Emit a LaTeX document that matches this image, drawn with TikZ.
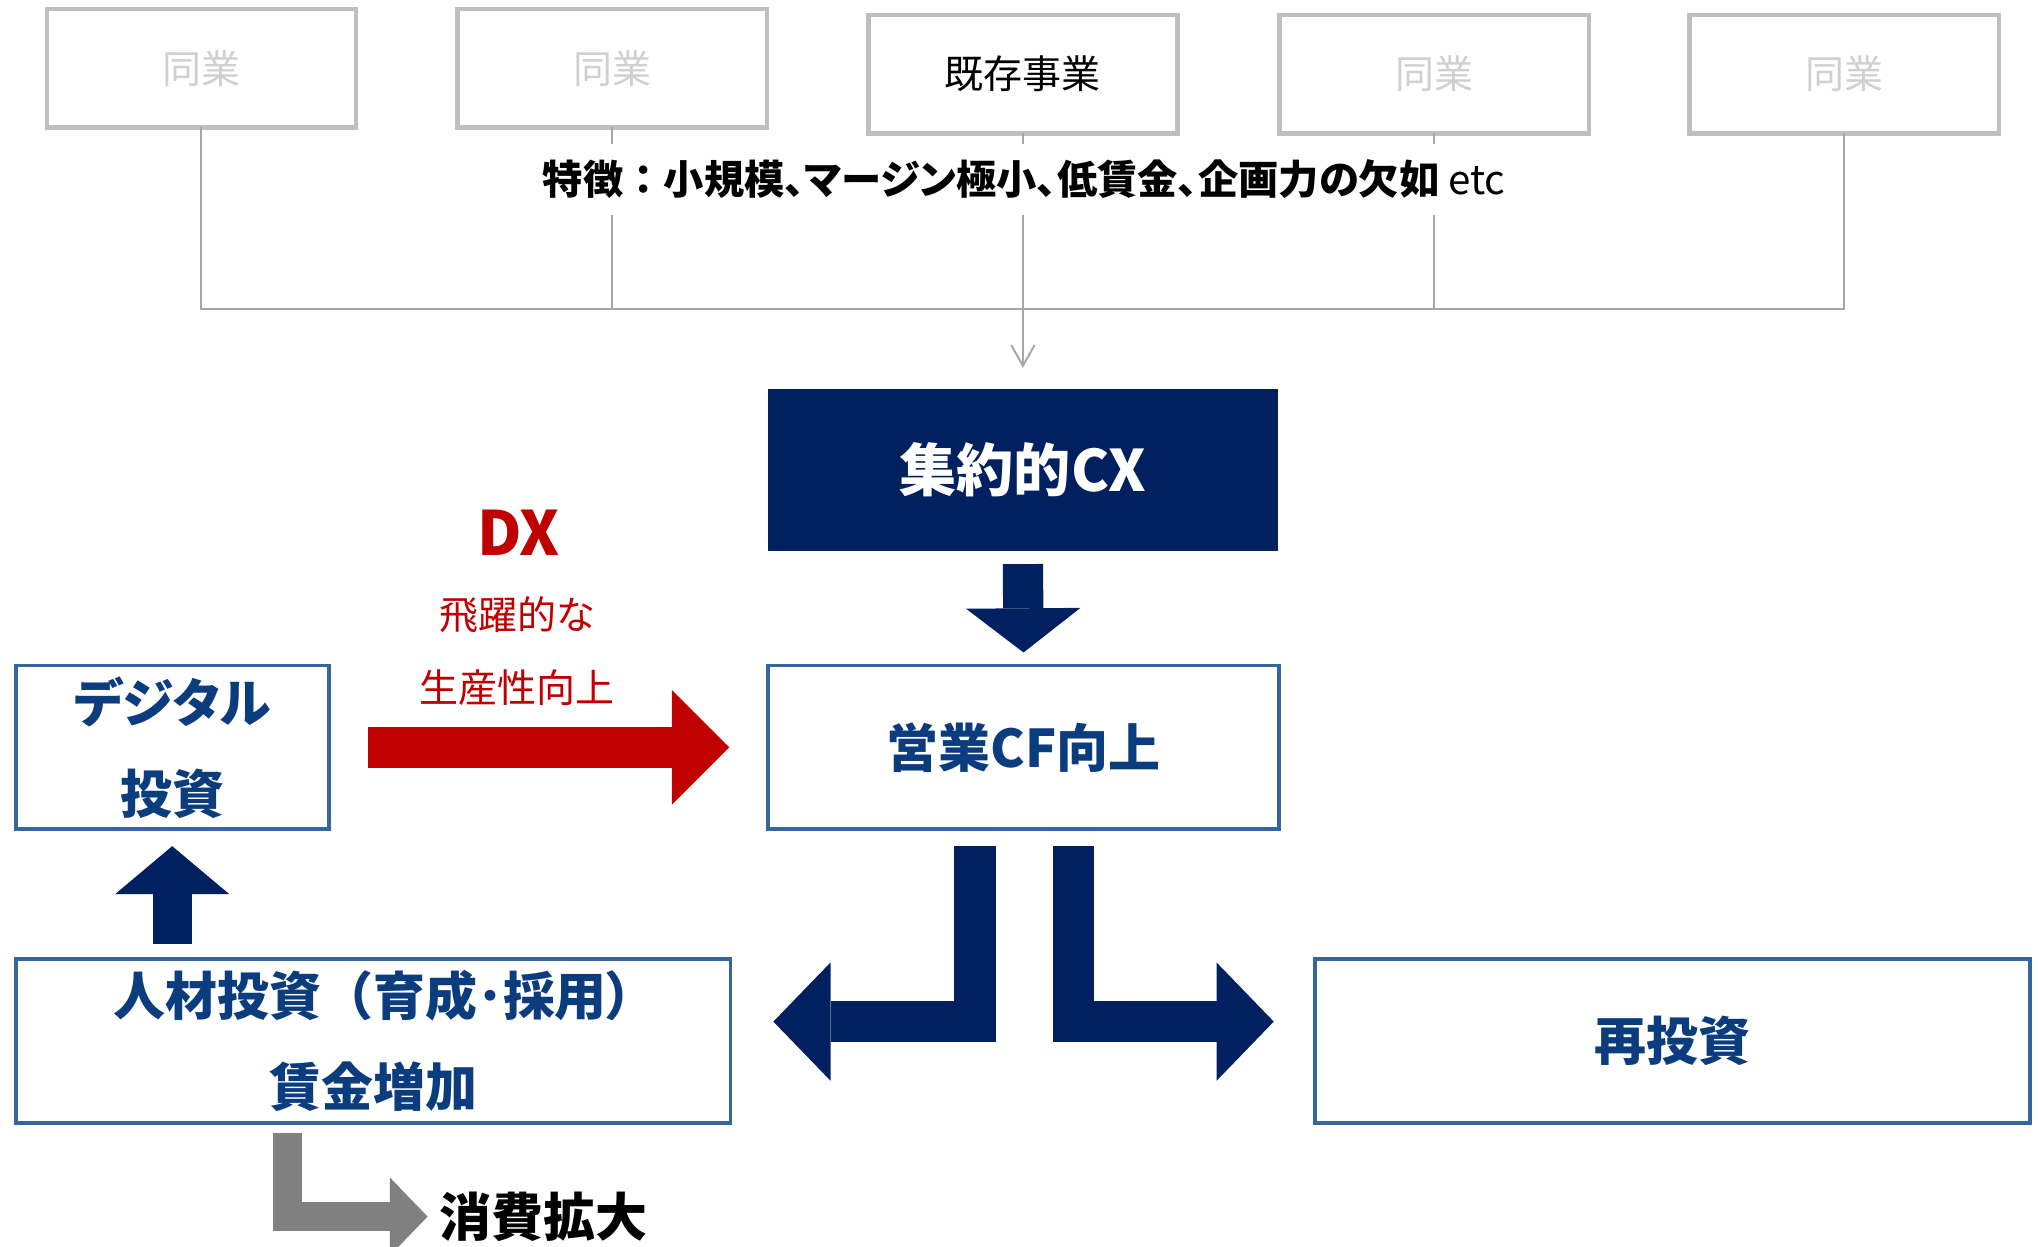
\documentclass[tikz,border=0pt]{standalone}
\usepackage{fontspec}
\setmainfont{Noto Sans CJK JP}[RawFeature=+palt]
\newfontfamily\fulljp{Noto Sans CJK JP}
\usetikzlibrary{arrows.meta}
\definecolor{navy}{HTML}{002060}
\definecolor{boxblue}{HTML}{35659E}
\definecolor{txtblue}{HTML}{0B3C7D}
\definecolor{dxred}{HTML}{C00000}
\definecolor{framegray}{HTML}{BFBFBF}
\definecolor{palegray}{HTML}{D0D0D0}
\definecolor{linegray}{HTML}{A6A6A6}
\definecolor{flowgray}{HTML}{808080}
\tikzset{
	peer/.style={draw=framegray, line width=3.5pt, minimum width=238pt, minimum height=91pt,
		text=palegray, font=\fontsize{30}{30}\selectfont, outer sep=0pt},
	bluebox/.style={draw=boxblue, line width=3pt, minimum height=126pt, text=txtblue,
		font=\fontsize{40}{70}\selectfont\bfseries, align=center, outer sep=0pt},
	conn/.style={linegray, line width=1.5pt},
	block/.style={navy, line width=#1},
	head/.style 2 args={-{Triangle[length=#1,width=#2,line width=0pt]}},
}
\begin{document}
\begin{tikzpicture}[x=1pt,y=-1pt]
	\useasboundingbox (0,0) rectangle (1568,959);
	% the five companies
	\node [peer] (d1) at (155,52.5) {同業};
	\node [peer] (d2) at (471,52.5) {同業};
	\node [peer, text=black] (d3) at (787,57) {既存事業};
	\node [peer] (d4) at (1103.5,57) {同業};
	\node [peer] (d5) at (1419,57) {同業};

	\node [fill=navy, minimum width=392pt, minimum height=125pt, outer sep=0pt,
		text=white, font=\fontsize{44}{44}\selectfont\bfseries] (cx) at (787,361.5) {集約的CX};

	\path (d3.south) ++(0,135.5) coordinate (bus);
	\draw [conn] (d1.south) |- (bus);
	\draw [conn] (d5.south) |- (bus);
	\foreach \d in {d2, d4} {
		\draw [conn] (\d.south) -- (\d.south |- bus);
	}
	\draw [conn, -{Straight Barb[length=16pt,width=18pt]}, shorten >=16pt] (d3.south) -- (cx.north);
	\node [fill=white, inner xsep=4pt, minimum height=55pt, font=\fontsize{31}{31}\selectfont]
		(feat) at (788,138) {\bfseries 特徴{\fulljp ：}小規模、マージン極小、低賃金、企画力の欠如\mdseries\ etc};

	% boxes
	\node [bluebox, minimum width=393pt] (cf) at (787.5,575) {営業CF向上};
	\node [bluebox, minimum width=241pt] (dig) at (132.5,575) {デジタル\\投資};
	\node [bluebox, minimum width=550pt] (hr) at (287,801) {人材投資{\fulljp （}育成･採用）\\賃金増加};
	\node [bluebox, minimum width=550pt] (re) at (1287,801) {再投資};

	\node [text=dxred, font=\fontsize{47}{47}\selectfont\bfseries] (dx) at (399,410) {DX};
	\node [text=dxred, font=\fontsize{30}{30}\selectfont] (leap) at (398,473) {飛躍的な};
	\node [text=dxred, font=\fontsize{30}{30}\selectfont] (prod) at (398,529) {生産性向上};
	\node [anchor=west, inner sep=0pt, font=\fontsize{40}{40}\selectfont\bfseries] (spend) at (338,936) {消費拡大};

	% block arrows
	\draw [block=31pt, head={34pt}{88pt}] ([yshift=-10pt]cx.south) -- ([yshift=10pt]cf.north);
	\path (hr.north -| dig.south) ++(0,-12) coordinate (up0);
	\draw [block=30pt, head={37pt}{88pt}] (up0) -- ([yshift=-13pt]dig.south);
	\draw [dxred, line width=31pt, head={44pt}{88pt}] ([xshift=30pt]dig.east) -- ([xshift=-30pt]cf.west);
	\draw [block=32pt, head={44pt}{91pt}] ([xshift=-37.5pt,yshift=-13pt]cf.south) |- ([xshift=33pt,yshift=15pt]hr.east);
	\draw [block=32pt, head={44pt}{91pt}] ([xshift=38.5pt,yshift=-13pt]cf.south) |- ([xshift=-32pt,yshift=15pt]re.west);
	\draw [flowgray, line width=22pt, head={29pt}{60pt}] ([xshift=-66pt,yshift=-8pt]hr.south) |- ([xshift=-9pt]spend.west);
\end{tikzpicture}
\end{document}
